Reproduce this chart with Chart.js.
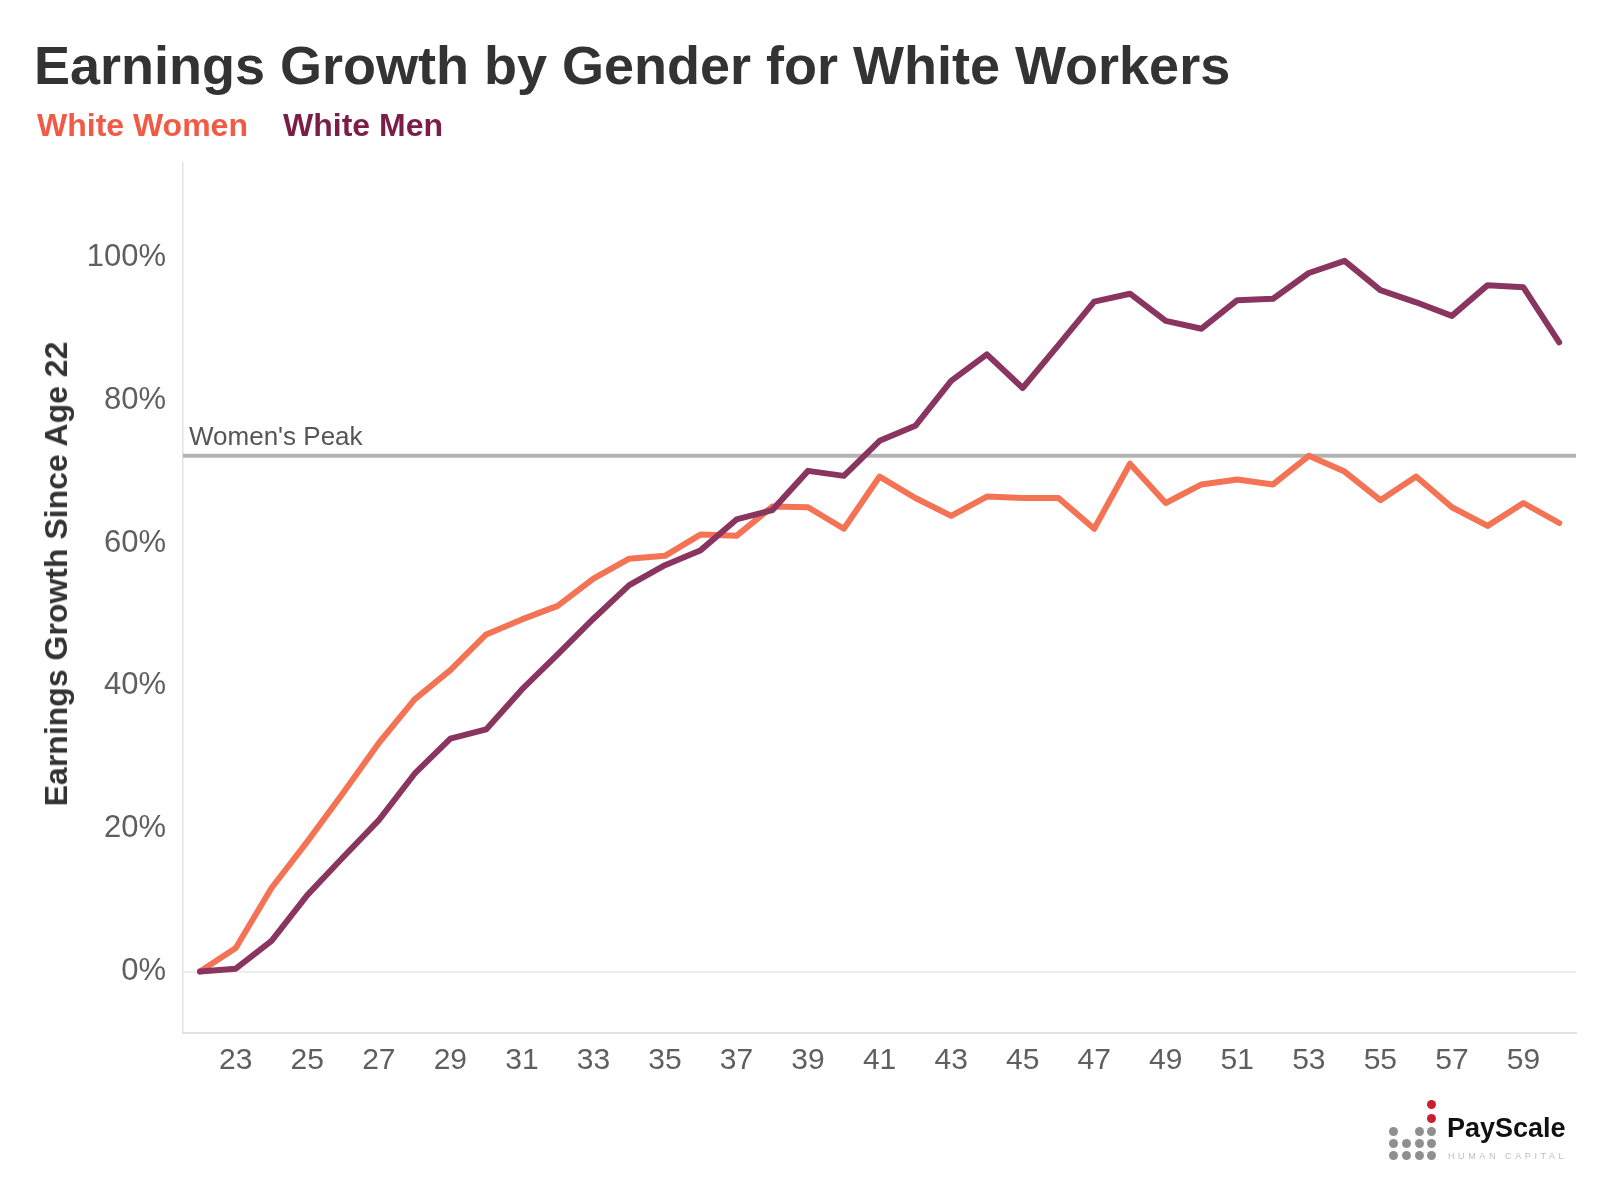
<!DOCTYPE html>
<html>
<head>
<meta charset="utf-8">
<script src="https://cdn.jsdelivr.net/npm/chart.js@4.4.1/dist/chart.umd.min.js"></script>
<style>
  html, body { margin: 0; padding: 0; background: #ffffff; }
  #wrap { position: relative; width: 1600px; height: 1200px; overflow: hidden; font-family: "Liberation Sans", Arial, Helvetica, sans-serif; }
  #chart { position: absolute; left: 0; top: 0; }
  .txt { position: absolute; white-space: nowrap; line-height: 1; }
  #title { left: 34px; top: 38px; font-size: 54px; font-weight: bold; color: #333333; }
  .leg { top: 109px; font-size: 32px; font-weight: bold; }
  #legW { left: 37px; color: #F15A45; }
  #legM { left: 283px; color: #7B1E47; }
  #ytitle { left: 56px; top: 574px; font-size: 32px; font-weight: bold; color: #333333;
            transform: translate(-50%, -50%) rotate(-90deg); }
  #logo { position: absolute; left: 1380px; top: 1095px; width: 210px; height: 70px; }
  .dot { position: absolute; width: 9px; height: 9px; border-radius: 50%; background: #8f8f8f; }
  .dot.red { background: #C8202F; }
  #ps { left: 67px; top: 20px; font-size: 27px; font-weight: bold; color: #111111; }
  #hc { left: 68px; top: 57px; font-size: 9px; color: #bdbdbd; letter-spacing: 3.6px; }
</style>
</head>
<body>
<div id="wrap">
  <canvas id="chart" width="1600" height="1200"></canvas>
  <div id="title" class="txt">Earnings Growth by Gender for White Workers</div>
  <div id="legW" class="txt leg">White Women</div>
  <div id="legM" class="txt leg">White Men</div>
  <div id="ytitle" class="txt">Earnings Growth Since Age 22</div>
  <div id="logo">
    <span class="dot red" style="left:47px;top:5px"></span>
    <span class="dot red" style="left:47px;top:19px"></span>
    <span class="dot" style="left:9px;top:32px"></span>
    <span class="dot" style="left:35px;top:32px"></span>
    <span class="dot" style="left:47px;top:32px"></span>
    <span class="dot" style="left:9px;top:44px"></span>
    <span class="dot" style="left:22px;top:44px"></span>
    <span class="dot" style="left:35px;top:44px"></span>
    <span class="dot" style="left:47px;top:44px"></span>
    <span class="dot" style="left:9px;top:56px"></span>
    <span class="dot" style="left:22px;top:56px"></span>
    <span class="dot" style="left:35px;top:56px"></span>
    <span class="dot" style="left:47px;top:56px"></span>
    <div id="ps" class="txt">PayScale</div>
    <div id="hc" class="txt">HUMAN CAPITAL</div>
  </div>
</div>
<script>
// ---- Data ----
const ages = [22,23,24,25,26,27,28,29,30,31,32,33,34,35,36,37,38,39,40,41,42,43,44,45,46,47,48,49,50,51,52,53,54,55,56,57,58,59,60];
const whiteWomen = [0,3.3,11.7,18.2,25.0,32.0,38.1,42.2,47.2,49.3,51.2,55.0,57.8,58.2,61.2,61.0,65.1,65.0,62.0,69.3,66.3,63.8,66.5,66.3,66.3,62.0,71.1,65.6,68.2,68.9,68.2,72.2,70.0,66.0,69.3,65.0,62.4,65.6,62.8];
const whiteMen = [0,0.4,4.3,10.7,16.0,21.2,27.7,32.6,33.9,39.5,44.4,49.4,54.1,56.9,59.0,63.3,64.6,70.1,69.4,74.3,76.4,82.7,86.4,81.7,87.7,93.8,94.9,91.1,90.0,94.0,94.2,97.8,99.5,95.4,93.7,91.8,96.1,95.8,88.1];
const xTickLabels = [23,25,27,29,31,33,35,37,39,41,43,45,47,49,51,53,55,57,59];
const yTickValues = [0,20,40,60,80,100];
const seriesNames = ["White Women", "White Men"];
const peakLabel = "Women's Peak";

const womenPeak = Math.max(...whiteWomen);
const FONT = '"Liberation Sans", Arial, Helvetica, sans-serif';

const peakPlugin = {
  id: 'peakLine',
  beforeDatasetsDraw(chart) {
    const {ctx, chartArea, scales} = chart;
    const y = scales.y.getPixelForValue(womenPeak);
    ctx.save();
    ctx.strokeStyle = '#b3b3b3';
    ctx.lineWidth = 4;
    ctx.beginPath();
    ctx.moveTo(chartArea.left, y);
    ctx.lineTo(chartArea.right, y);
    ctx.stroke();
    ctx.fillStyle = '#555555';
    ctx.font = '26px ' + FONT;
    ctx.textAlign = 'left';
    ctx.textBaseline = 'alphabetic';
    ctx.fillText(peakLabel, chartArea.left + 6, y - 11);
    ctx.restore();
  }
};

new Chart(document.getElementById('chart'), {
  type: 'line',
  data: {
    datasets: [
      {
        label: seriesNames[0],
        data: ages.map((a, i) => ({x: a, y: whiteWomen[i]})),
        borderColor: '#F47355',
        borderWidth: 6,
        pointRadius: 0,
        tension: 0,
        borderCapStyle: 'round',
        borderJoinStyle: 'round',
        order: 1
      },
      {
        label: seriesNames[1],
        data: ages.map((a, i) => ({x: a, y: whiteMen[i]})),
        borderColor: '#8A3560',
        borderWidth: 6,
        pointRadius: 0,
        tension: 0,
        borderCapStyle: 'round',
        borderJoinStyle: 'round',
        order: 0
      }
    ]
  },
  options: {
    responsive: false,
    animation: false,
    devicePixelRatio: 1,
    layout: { padding: { top: 163, right: 24, left: 0, bottom: 0 } },
    plugins: { legend: { display: false }, title: { display: false }, tooltip: { enabled: false } },
    scales: {
      x: {
        type: 'linear',
        min: 21.525,
        max: 60.47,
        afterBuildTicks(scale) { scale.ticks = xTickLabels.map(v => ({value: v})); },
        afterFit(scale) { scale.height = 167; },
        grid: { display: false, drawTicks: false },
        border: { display: true, color: '#e3e3e3', width: 2 },
        ticks: {
          autoSkip: false, maxRotation: 0, padding: 10,
          color: '#5f5f5f', font: { family: FONT, size: 30 },
          callback: v => String(v)
        }
      },
      y: {
        type: 'linear',
        min: -8.6,
        max: 113.2,
        afterBuildTicks(scale) { scale.ticks = yTickValues.map(v => ({value: v})); },
        afterFit(scale) { scale.width = 183; },
        grid: {
          drawTicks: false,
          color: c => (c.tick && c.tick.value === 0) ? '#eeeeee' : 'rgba(0,0,0,0)',
          lineWidth: 2
        },
        border: { display: true, color: '#e3e3e3', width: 1.5 },
        ticks: {
          padding: 17,
          color: '#5f5f5f', font: { family: FONT, size: 31 },
          callback: v => v + '%'
        }
      }
    }
  },
  plugins: [peakPlugin]
});
</script>
</body>
</html>
